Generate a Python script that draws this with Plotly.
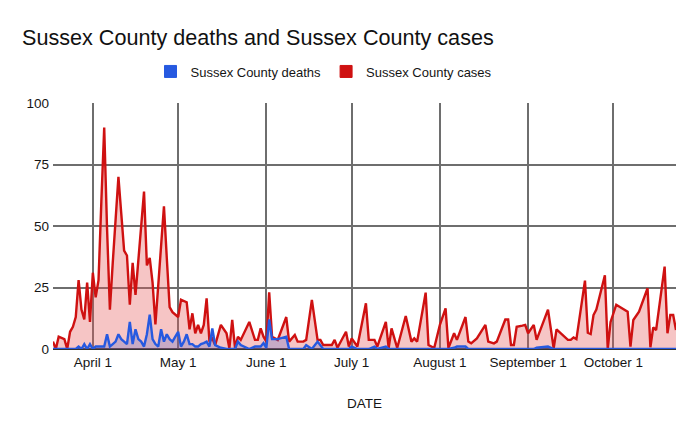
import plotly.graph_objects as go

dates = [
    "2020-03-18", "2020-03-19", "2020-03-20", "2020-03-22", "2020-03-23", "2020-03-24",
    "2020-03-25", "2020-03-26", "2020-03-27", "2020-03-28", "2020-03-29", "2020-03-30",
    "2020-03-31", "2020-04-01", "2020-04-02", "2020-04-03", "2020-04-04", "2020-04-05",
    "2020-04-06", "2020-04-07", "2020-04-08", "2020-04-09", "2020-04-10", "2020-04-11",
    "2020-04-12", "2020-04-13", "2020-04-14", "2020-04-15", "2020-04-16", "2020-04-17",
    "2020-04-18", "2020-04-19", "2020-04-20", "2020-04-21", "2020-04-22", "2020-04-23",
    "2020-04-24", "2020-04-25", "2020-04-26", "2020-04-27", "2020-04-28", "2020-04-29",
    "2020-04-30", "2020-05-01", "2020-05-02", "2020-05-03", "2020-05-04", "2020-05-05",
    "2020-05-06", "2020-05-07", "2020-05-08", "2020-05-09", "2020-05-10", "2020-05-11",
    "2020-05-12", "2020-05-13", "2020-05-14", "2020-05-16", "2020-05-18", "2020-05-19",
    "2020-05-20", "2020-05-21", "2020-05-22", "2020-05-23", "2020-05-26", "2020-05-28",
    "2020-05-29", "2020-05-30", "2020-05-31", "2020-06-01", "2020-06-02", "2020-06-03",
    "2020-06-05", "2020-06-08", "2020-06-09", "2020-06-11", "2020-06-12", "2020-06-14",
    "2020-06-15", "2020-06-17", "2020-06-19", "2020-06-20", "2020-06-21", "2020-06-24",
    "2020-06-25", "2020-06-26", "2020-06-29", "2020-06-30", "2020-07-01", "2020-07-03",
    "2020-07-06", "2020-07-07", "2020-07-09", "2020-07-10", "2020-07-13", "2020-07-14",
    "2020-07-15", "2020-07-17", "2020-07-20", "2020-07-22", "2020-07-23", "2020-07-24",
    "2020-07-27", "2020-07-28", "2020-07-30", "2020-08-01", "2020-08-03", "2020-08-04",
    "2020-08-06", "2020-08-07", "2020-08-10", "2020-08-11", "2020-08-12", "2020-08-14",
    "2020-08-17", "2020-08-18", "2020-08-20", "2020-08-21", "2020-08-24", "2020-08-25",
    "2020-08-26", "2020-08-27", "2020-08-28", "2020-08-30", "2020-08-31", "2020-09-01",
    "2020-09-03", "2020-09-04", "2020-09-08", "2020-09-10", "2020-09-11", "2020-09-15",
    "2020-09-16", "2020-09-17", "2020-09-18", "2020-09-21", "2020-09-22", "2020-09-23",
    "2020-09-24", "2020-09-25", "2020-09-28", "2020-09-29", "2020-09-30", "2020-10-02",
    "2020-10-06", "2020-10-07", "2020-10-08", "2020-10-10", "2020-10-13", "2020-10-14",
    "2020-10-15", "2020-10-16", "2020-10-19", "2020-10-20", "2020-10-21", "2020-10-22",
    "2020-10-23",
]

cases = [
    3, 0, 5, 4, 0, 7,
    9, 13, 28, 16, 12, 27,
    11, 31, 21, 28, 60, 90,
    49, 16, 35, 53, 70, 55,
    40, 38, 18, 35, 22, 36,
    50, 64, 34, 37, 27, 10,
    26, 42, 58, 37, 17, 15,
    14, 13, 20, 19.5, 19, 8,
    14.5, 6.4, 9.8, 6.4, 9.8, 20.6,
    3, 4.3, 1.6, 9.8, 6.4, 0.3,
    11.8, 0.4, 5, 3.7, 11, 3.7,
    3.7, 8.4, 5, 3, 23, 5,
    3.7, 13, 3, 5.7, 3, 3,
    3.7, 20, 3.7, 3.7, 1.6, 1.6,
    3.7, 0.5, 7, 1, 4.3, 1,
    18.6, 3.7, 3.7, 1, 11, 0.4,
    8.4, 0.4, 13.4, 3, 4.3, 3,
    22.9, 1.6, 0.4, 9.8, 16.5, 0.4,
    6.4, 3.7, 13, 3, 2.3, 4.3,
    9.8, 3, 2.3, 3, 12, 12,
    1.6, 1.6, 9, 9.5, 9.8, 6.4,
    9.8, 3.7, 16, 0.3, 8, 3.7,
    3.7, 4.7, 4, 27.8, 6.6, 6.1,
    13.8, 16, 30, 0, 11, 18,
    15.2, 1, 11.8, 15.2, 24.7, 0.7,
    8.8, 7.7, 33.5, 6.4, 13.8, 13.8,
    7.7,
]

deaths = [
    0, 0, 0, 0, 0, 0,
    0, 0, 1, 0, 2, 0,
    2, 0, 1, 1, 1, 1,
    6, 1, 2, 3, 6, 4,
    3, 2, 11, 2, 8, 4,
    3, 1, 6, 14, 4, 2,
    1, 8, 3, 6, 4, 3,
    5, 7, 1, 3, 6, 2,
    2, 1, 1, 2, 2.4, 3,
    1, 8.4, 1.6, 0.5, 0, 0,
    0, 0, 3, 1.6, 0, 1,
    1, 1, 2.4, 0.5, 12, 4,
    4, 5, 0, 0, 0, 0,
    1.6, 0, 3, 1.6, 0, 0,
    0, 0, 0, 0, 1, 0,
    0, 0, 1, 0, 1, 0,
    0, 0, 0, 0, 0, 0,
    0, 0, 0, 0, 0, 0,
    0.5, 1, 1, 0, 0, 0,
    0, 0, 0, 0, 0, 0,
    0, 0, 0, 0, 0, 0,
    0, 0.5, 1, 0, 0, 0,
    0, 0, 0, 0, 0, 0,
    0, 0, 0, 0, 0, 0,
    0, 0, 0, 0, 0, 0,
    0, 0, 0, 0, 0, 0,
    0,
]

month_ticks = ["2020-04-01", "2020-05-01", "2020-06-01", "2020-07-01",
               "2020-08-01", "2020-09-01", "2020-10-01"]
month_labels = ["April 1", "May 1", "June 1", "July 1",
                "August 1", "September 1", "October 1"]

RED = "#cf1111"
BLUE = "#2659e0"
FONT = "Arial, Liberation Sans, sans-serif"
TXT = "#151515"

# page body has an 8px margin, so the figure is a bit smaller than the window
W, H = 690, 424

fig = go.Figure()

fig.add_trace(go.Scatter(
    x=dates, y=cases, mode="lines", name="Sussex County cases",
    line=dict(color=RED, width=2.4), fill="tozeroy",
    fillcolor="rgba(230, 90, 90, 0.35)", showlegend=False,
))
fig.add_trace(go.Scatter(
    x=dates, y=deaths, mode="lines", name="Sussex County deaths",
    line=dict(color=BLUE, width=2.4), fill="tozeroy",
    fillcolor="rgba(60, 90, 200, 0.25)", showlegend=False,
))

# legend entries with square swatches like the sheets chart
for name, col in [("Sussex County deaths", BLUE), ("Sussex County cases", RED)]:
    fig.add_trace(go.Scatter(
        x=[None], y=[None], mode="markers", name=name,
        marker=dict(symbol="square", size=12, color=col,
                    line=dict(color=col, width=1)),
    ))

fig.update_layout(
    width=W, height=H,
    margin=dict(l=45, r=22, t=95, b=83),
    paper_bgcolor="white", plot_bgcolor="white",
    font=dict(family=FONT, size=13, color=TXT),
    title=dict(text="Sussex County deaths and Sussex County cases",
               x=14 / W, xref="container", xanchor="left",
               y=1 - 29 / H, yref="container", yanchor="middle",
               font=dict(size=21.6, color="#111111")),
    legend=dict(orientation="h", x=0.435, xanchor="center",
                y=1.128, yanchor="middle", font=dict(size=13, color=TXT),
                itemwidth=30, traceorder="normal"),
    showlegend=True,
)

fig.update_xaxes(
    type="date", range=["2020-03-18", "2020-10-23"],
    tickvals=month_ticks, ticktext=month_labels,
    showgrid=True, gridcolor="#6e6e6e", gridwidth=1.5,
    showline=False, ticks="", tickfont=dict(size=13.5, color=TXT),
    ticklabelstandoff=3,
    title=dict(text="DATE", font=dict(size=13.5, color=TXT), standoff=30),
    zeroline=False,
)
fig.update_yaxes(
    range=[0, 100], tickvals=[0, 25, 50, 75, 100],
    showgrid=True, gridcolor="#6e6e6e", gridwidth=1.5,
    zeroline=True, zerolinecolor="#333333", zerolinewidth=2,
    ticks="", tickfont=dict(size=13.5, color=TXT), ticklabelstandoff=3,
    showline=False,
)

fig.write_html("out.html")
